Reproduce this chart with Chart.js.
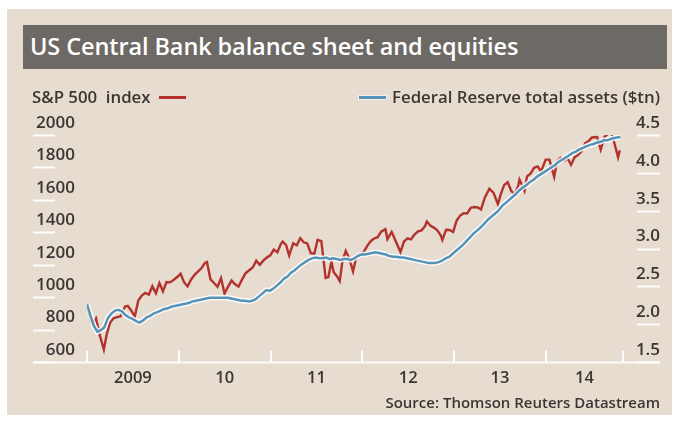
<!DOCTYPE html>
<html>
<head>
<meta charset="utf-8">
<script src="https://cdn.jsdelivr.net/npm/chart.js@4/dist/chart.umd.min.js"></script>
<style>
  html, body { margin: 0; padding: 0; background: #ffffff; }
  #wrap { position: relative; width: 679px; height: 422px; overflow: hidden; font-family: "Open Sans", sans-serif; }
  #panel { position: absolute; left: 7px; top: 9px; width: 665px; height: 406px; background: #e6dccf; }
  #titlebar { position: absolute; left: 23px; top: 25px; width: 644px; height: 44px; background: #6d6965; }
  #title { position: absolute; left: 30px; top: 30px; color: #ffffff; font-size: 23.5px; font-weight: 600; line-height: 32px; white-space: nowrap; letter-spacing: -0.1px; }
  canvas { position: absolute; left: 0; top: 0; }
  .lab { position: absolute; color: #3b3633; font-size: 16.8px; font-weight: 600; line-height: 20px; white-space: nowrap; }
  .dash { display: inline-block; width: 27px; height: 3px; vertical-align: middle; position: relative; top: -1px; }
  #legL { left: 32px; top: 87px; }
  #legR { right: 19px; top: 87px; }
  #source { right: 19px; top: 392px; font-size: 15px; }
</style>
</head>
<body>
<div id="wrap">
  <div id="panel"></div>
  <div id="titlebar"></div>
  <div id="title">US Central Bank balance sheet and equities</div>
  <canvas id="c" width="679" height="422"></canvas>
  <div class="lab" id="legL">S&amp;P 500&nbsp; index <span class="dash" style="background:#b4322d;margin-left:4px"></span></div>
  <div class="lab" id="legR"><span class="dash" style="background:#5593b8;margin-right:6px;box-shadow:0 0 0 1px #f4efe8"></span>Federal Reserve total assets ($tn)</div>
  <div class="lab" id="source">Source: Thomson Reuters Datastream</div>
</div>
<script>
// S&P 500 index, roughly fortnightly closes
const spDates = [
  '2009-01-02','2009-01-16','2009-01-23','2009-02-06','2009-02-20','2009-03-09','2009-03-20','2009-04-03','2009-04-17','2009-05-01',
  '2009-05-15','2009-06-01','2009-06-12','2009-06-26','2009-07-10','2009-07-24','2009-08-07','2009-08-21','2009-09-04','2009-09-18',
  '2009-10-02','2009-10-16','2009-10-30','2009-11-13','2009-11-27','2009-12-11','2009-12-28','2010-01-08','2010-01-22','2010-02-05',
  '2010-02-19','2010-03-05','2010-03-19','2010-04-01','2010-04-15','2010-04-23','2010-05-07','2010-05-21','2010-06-04','2010-06-18',
  '2010-07-02','2010-07-16','2010-07-30','2010-08-13','2010-08-27','2010-09-10','2010-09-24','2010-10-08','2010-10-22','2010-11-05',
  '2010-11-19','2010-12-03','2010-12-17','2010-12-31','2011-01-14','2011-01-28','2011-02-11','2011-02-18','2011-03-04','2011-03-16',
  '2011-04-01','2011-04-15','2011-04-29','2011-05-13','2011-05-27','2011-06-10','2011-06-24','2011-07-07','2011-07-22','2011-08-08',
  '2011-08-19','2011-08-31','2011-09-09','2011-09-22','2011-10-03','2011-10-14','2011-10-27','2011-11-10','2011-11-25','2011-12-09',
  '2011-12-23','2012-01-06','2012-01-20','2012-02-03','2012-02-17','2012-03-02','2012-03-16','2012-04-02','2012-04-10','2012-04-27',
  '2012-05-11','2012-06-01','2012-06-15','2012-06-29','2012-07-13','2012-07-27','2012-08-10','2012-08-24','2012-09-07','2012-09-14',
  '2012-09-28','2012-10-12','2012-10-26','2012-11-09','2012-11-15','2012-11-30','2012-12-14','2012-12-28','2013-01-11','2013-01-25',
  '2013-02-08','2013-02-22','2013-03-08','2013-03-22','2013-04-05','2013-04-18','2013-05-03','2013-05-21','2013-06-07','2013-06-24',
  '2013-07-05','2013-07-19','2013-08-02','2013-08-16','2013-08-30','2013-09-13','2013-09-18','2013-10-08','2013-10-18','2013-11-01',
  '2013-11-15','2013-11-29','2013-12-13','2013-12-31','2014-01-15','2014-02-03','2014-02-14','2014-02-28','2014-03-14','2014-03-28',
  '2014-04-11','2014-04-25','2014-05-09','2014-05-23','2014-06-06','2014-06-20','2014-07-03','2014-07-24','2014-08-07','2014-08-22',
  '2014-09-05','2014-09-19','2014-10-01','2014-10-15','2014-10-22'
];
const spValues = [
   931, 850, 832, 869, 770, 677, 768, 843, 870, 877,
   882, 942, 946, 918, 880, 979,1010,1026,1016,1068,
  1025,1087,1036,1093,1091,1106,1127,1145,1092,1066,
  1109,1138,1159,1178,1211,1217,1110,1087,1064,1117,
  1022,1065,1102,1079,1065,1110,1148,1166,1183,1225,
  1199,1225,1244,1258,1293,1276,1329,1343,1321,1257,
  1332,1320,1364,1338,1331,1271,1268,1353,1345,1119,
  1124,1219,1154,1129,1099,1224,1285,1239,1159,1255,
  1265,1278,1315,1345,1362,1370,1404,1419,1358,1403,
  1353,1278,1343,1362,1356,1386,1406,1411,1438,1466,
  1441,1429,1412,1380,1353,1416,1414,1402,1472,1503,
  1518,1516,1551,1556,1553,1541,1614,1669,1643,1573,
  1632,1692,1709,1655,1633,1688,1725,1655,1745,1762,
  1798,1806,1775,1848,1848,1742,1838,1859,1841,1857,
  1816,1863,1878,1900,1949,1963,1985,1988,1910,1988,
  2007,2011,1946,1862,1905
];

// Federal Reserve total assets, $tn
const fedDates = [
  '2009-01-01','2009-01-14','2009-01-28','2009-02-11','2009-02-25','2009-03-11','2009-03-25','2009-04-08','2009-04-22','2009-05-06',
  '2009-05-20','2009-06-03','2009-06-17','2009-07-01','2009-07-15','2009-07-29','2009-08-12','2009-08-26','2009-09-09','2009-09-23',
  '2009-10-07','2009-10-21','2009-11-04','2009-11-18','2009-12-02','2009-12-16','2009-12-30','2010-01-13','2010-01-27','2010-02-10',
  '2010-02-24','2010-03-10','2010-03-24','2010-04-07','2010-04-21','2010-05-05','2010-05-19','2010-06-02','2010-06-16','2010-06-30',
  '2010-07-14','2010-07-28','2010-08-11','2010-08-25','2010-09-08','2010-09-22','2010-10-06','2010-10-20','2010-11-03','2010-11-17',
  '2010-12-01','2010-12-15','2010-12-29','2011-01-12','2011-01-26','2011-02-09','2011-02-23','2011-03-09','2011-03-23','2011-04-06',
  '2011-04-20','2011-05-04','2011-05-18','2011-06-01','2011-06-15','2011-06-29','2011-07-13','2011-07-27','2011-08-10','2011-08-24',
  '2011-09-07','2011-09-21','2011-10-05','2011-10-19','2011-11-02','2011-11-16','2011-11-30','2011-12-14','2011-12-28','2012-01-11',
  '2012-01-25','2012-02-08','2012-02-22','2012-03-07','2012-03-21','2012-04-04','2012-04-18','2012-05-02','2012-05-16','2012-05-30',
  '2012-06-13','2012-06-27','2012-07-11','2012-07-25','2012-08-08','2012-08-22','2012-09-05','2012-09-19','2012-10-03','2012-10-17',
  '2012-10-31','2012-11-14','2012-11-28','2012-12-12','2012-12-26','2013-01-09','2013-01-23','2013-02-06','2013-02-20','2013-03-06',
  '2013-03-20','2013-04-03','2013-04-17','2013-05-01','2013-05-15','2013-05-29','2013-06-12','2013-06-26','2013-07-10','2013-07-24',
  '2013-08-07','2013-08-21','2013-09-04','2013-09-18','2013-10-02','2013-10-16','2013-10-30','2013-11-13','2013-11-27','2013-12-11',
  '2013-12-25','2014-01-08','2014-01-22','2014-02-05','2014-02-19','2014-03-05','2014-03-19','2014-04-02','2014-04-16','2014-04-30',
  '2014-05-14','2014-05-28','2014-06-11','2014-06-25','2014-07-09','2014-07-23','2014-08-06','2014-08-20','2014-09-03','2014-09-17',
  '2014-10-01','2014-10-15','2014-10-24'
];
const fedValues = [
  2.27,2.12,1.98,1.90,1.92,1.96,2.08,2.14,2.18,2.19,
  2.17,2.12,2.09,2.07,2.04,2.02,2.05,2.09,2.11,2.14,
  2.16,2.18,2.20,2.21,2.23,2.24,2.25,2.26,2.27,2.28,
  2.30,2.31,2.32,2.33,2.34,2.35,2.35,2.35,2.35,2.35,
  2.35,2.34,2.33,2.32,2.31,2.31,2.30,2.31,2.33,2.37,
  2.41,2.45,2.44,2.47,2.51,2.55,2.60,2.63,2.68,2.71,
  2.75,2.79,2.82,2.85,2.87,2.88,2.87,2.87,2.88,2.86,
  2.87,2.86,2.85,2.86,2.86,2.85,2.87,2.90,2.92,2.92,
  2.93,2.94,2.95,2.94,2.93,2.92,2.90,2.89,2.89,2.88,
  2.88,2.87,2.86,2.85,2.84,2.83,2.82,2.81,2.81,2.81,
  2.82,2.84,2.87,2.89,2.93,2.97,3.01,3.05,3.10,3.15,
  3.20,3.24,3.28,3.33,3.38,3.42,3.46,3.50,3.56,3.60,
  3.64,3.68,3.72,3.77,3.81,3.84,3.88,3.91,3.95,3.98,
  4.01,4.04,4.07,4.10,4.14,4.17,4.20,4.23,4.26,4.28,
  4.31,4.33,4.35,4.37,4.38,4.40,4.41,4.43,4.43,4.45,
  4.46,4.47,4.47
];

const yearLabels = ['2009', '10', '11', '12', '13', '14'];
const firstYear = 2009;
const axisEnd = 2014.84;

const RED = '#b4322d';
const BLUE = '#5593b8';
const INK = '#3b3633';
const FONT = '"Open Sans", sans-serif';

function toYear(s) {
  const [y, m, d] = s.split('-').map(Number);
  const start = Date.UTC(y, 0, 1);
  const len = Date.UTC(y + 1, 0, 1) - start;
  return y + (Date.UTC(y, m - 1, d) - start) / len;
}
const spPoints = spDates.map((d, i) => ({ x: toYear(d), y: spValues[i] }));
const fedPoints = fedDates.map((d, i) => ({ x: toYear(d), y: fedValues[i] }));

// year labels sit in the middle of each (possibly partial) year
const labelPos = yearLabels.map((_, i) => {
  const a = firstYear + i, b = Math.min(a + 1, axisEnd);
  return (a + b) / 2;
});

// white baseline, year tick marks and short label underlines
const axisMarks = {
  id: 'axisMarks',
  beforeDatasetsDraw(chart) {
    const { ctx, chartArea, scales } = chart;
    const x = scales.x, yl = scales.y, yr = scales.y1;
    ctx.save();
    ctx.strokeStyle = 'rgba(255,255,255,0.9)';
    ctx.lineWidth = 2;
    yl.ticks.forEach(t => {
      const p = Math.round(yl.getPixelForValue(t.value)) + 0.5;
      ctx.beginPath(); ctx.moveTo(33, p); ctx.lineTo(55, p); ctx.stroke();
    });
    yr.ticks.forEach(t => {
      const p = Math.round(yr.getPixelForValue(t.value)) + 0.5;
      ctx.beginPath(); ctx.moveTo(637, p); ctx.lineTo(660, p); ctx.stroke();
    });
    const base = Math.round(chartArea.bottom) + 0.5;
    ctx.beginPath(); ctx.moveTo(33, base); ctx.lineTo(660, base); ctx.stroke();
    const bounds = [];
    for (let yv = firstYear; yv < axisEnd; yv++) bounds.push(yv);
    bounds.push(axisEnd);
    bounds.forEach(v => {
      const p = Math.round(x.getPixelForValue(v));
      ctx.beginPath(); ctx.moveTo(p, base); ctx.lineTo(p, base - 12); ctx.stroke();
    });
    ctx.restore();
  }
};

new Chart(document.getElementById('c'), {
  type: 'line',
  data: {
    datasets: [
      { label: 'Federal Reserve total assets ($tn)', data: fedPoints, yAxisID: 'y1', borderColor: BLUE, borderWidth: 2.5, pointRadius: 0, tension: 0, order: 0 },
      { label: 'halo', data: fedPoints, yAxisID: 'y1', borderColor: 'rgba(255,255,255,0.85)', borderWidth: 5.5, pointRadius: 0, tension: 0, order: 1 },
      { label: 'S&P 500 index', data: spPoints, yAxisID: 'y', borderColor: RED, borderWidth: 2.4, pointRadius: 0, tension: 0, order: 2 }
    ]
  },
  options: {
    responsive: false,
    animation: false,
    events: [],
    layout: { padding: { left: 23, right: 19, top: 135, bottom: 30 } },
    plugins: { legend: { display: false }, tooltip: { enabled: false } },
    scales: {
      x: {
        type: 'linear',
        min: firstYear,
        max: axisEnd,
        afterBuildTicks: axis => { axis.ticks = labelPos.map(v => ({ value: v })); },
        afterFit: axis => { axis.height = 30; },
        grid: { display: false, drawTicks: false },
        border: { display: false },
        ticks: {
          autoSkip: false, maxRotation: 0, padding: 6,
          color: INK, font: { family: FONT, size: 16.5, weight: '600' },
          callback: (v, i) => yearLabels[i]
        }
      },
      y: {
        position: 'left',
        min: 600, max: 2000,
        afterFit: axis => { axis.width = 64; },
        grid: { display: false, drawTicks: false },
        border: { display: false },
        ticks: {
          stepSize: 200, padding: 12, labelOffset: -12,
          color: INK, font: { family: FONT, size: 17, weight: '600' },
          callback: v => String(v)
        }
      },
      y1: {
        position: 'right',
        min: 1.5, max: 4.5,
        afterFit: axis => { axis.width = 37; },
        grid: { display: false, drawTicks: false },
        border: { display: false },
        ticks: {
          stepSize: 0.5, padding: 12, labelOffset: -12, crossAlign: 'far',
          color: INK, font: { family: FONT, size: 17, weight: '600' },
          callback: v => Number(v).toFixed(1)
        }
      }
    }
  },
  plugins: [axisMarks]
});
</script>
</body>
</html>
